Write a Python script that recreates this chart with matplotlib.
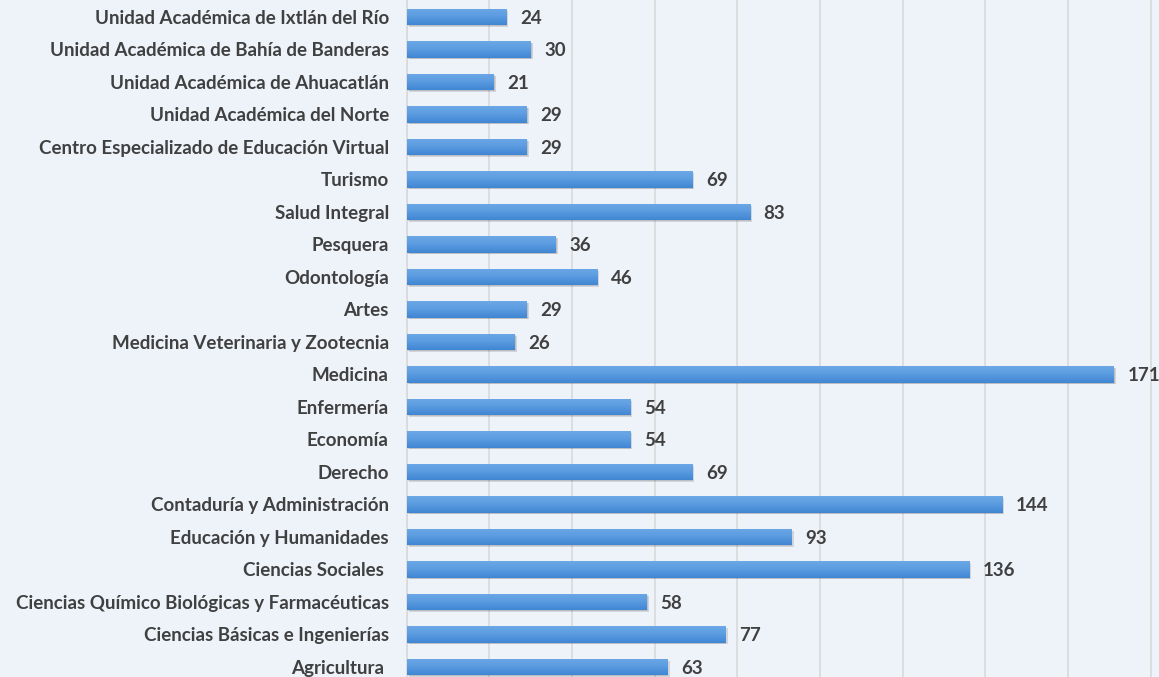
import matplotlib.pyplot as plt
import numpy as np
from matplotlib.colors import LinearSegmentedColormap

# datos (de abajo hacia arriba)
categorias = [
    "Agricultura ",
    "Ciencias Básicas e Ingenierías",
    "Ciencias Químico Biológicas y Farmacéuticas",
    "Ciencias Sociales ",
    "Educación y Humanidades",
    "Contaduría y Administración",
    "Derecho",
    "Economía",
    "Enfermería",
    "Medicina",
    "Medicina Veterinaria y Zootecnia",
    "Artes",
    "Odontología",
    "Pesquera",
    "Salud Integral",
    "Turismo",
    "Centro Especializado de Educación Virtual",
    "Unidad Académica del Norte",
    "Unidad Académica de Ahuacatlán",
    "Unidad Académica de Bahía de Banderas",
    "Unidad Académica de Ixtlán del Río",
]
valores = [63, 77, 58, 136, 93, 144, 69, 54, 54, 171, 26, 29, 46, 36, 83, 69, 29, 29, 21, 30, 24]

plt.rcParams['font.family'] = ['Lato', 'DejaVu Sans']

fondo = '#EEF3FA'
texto = '#404040'

fig = plt.figure(figsize=(11.59, 6.77), dpi=100, facecolor=fondo)
ax = fig.add_axes([0.351, 0, 0.649, 1])
ax.set_facecolor(fondo)

y = np.arange(len(categorias))
alto = 0.5

# sombra
ax.barh(y - 0.06, valores, height=alto, left=0.6, color='#000000', alpha=0.12, zorder=2)
ax.barh(y - 0.04, valores, height=alto, left=0.3, color='#000000', alpha=0.10, zorder=2)

barras = ax.barh(y, valores, height=alto, color='#4A8FD8', zorder=3)

# degradado vertical dentro de cada barra
cmap = LinearSegmentedColormap.from_list('azul', ['#3F86D2', '#5A9BE0', '#6CA8E6'])
grad = np.linspace(0, 1, 64).reshape(-1, 1)
for b in barras:
    x0, y0 = b.get_x(), b.get_y()
    w, h = b.get_width(), b.get_height()
    im = ax.imshow(grad, cmap=cmap, aspect='auto', origin='lower',
                   extent=[x0, x0 + w, y0, y0 + h], zorder=4)
    im.set_clip_path(b)

for yi, v in zip(y, valores):
    ax.annotate(str(v), (v, yi), xytext=(10, 0), textcoords='offset points',
                va='center_baseline', ha='left', fontsize=13.5, fontweight='bold',
                color=texto, zorder=5)

ax.set_xlim(0, 182)
ax.set_ylim(-0.31, 20.52)
ax.set_xticks(np.arange(0, 181, 20))
ax.set_xticklabels([])
ax.tick_params(axis='x', length=0)
ax.grid(axis='x', color='#D9D9D9', linewidth=1.2, zorder=0)
ax.set_axisbelow(True)

ax.set_yticks(y)
ax.set_yticklabels(categorias, fontsize=13.5, fontweight='bold', color=texto,
                   va='center_baseline')
ax.tick_params(axis='y', length=0, pad=13)

for s in ['top', 'right', 'bottom']:
    ax.spines[s].set_visible(False)
ax.spines['left'].set_color('#D9D9D9')
ax.spines['left'].set_linewidth(1.2)

fig.savefig('out.png', dpi=100, facecolor=fondo)
